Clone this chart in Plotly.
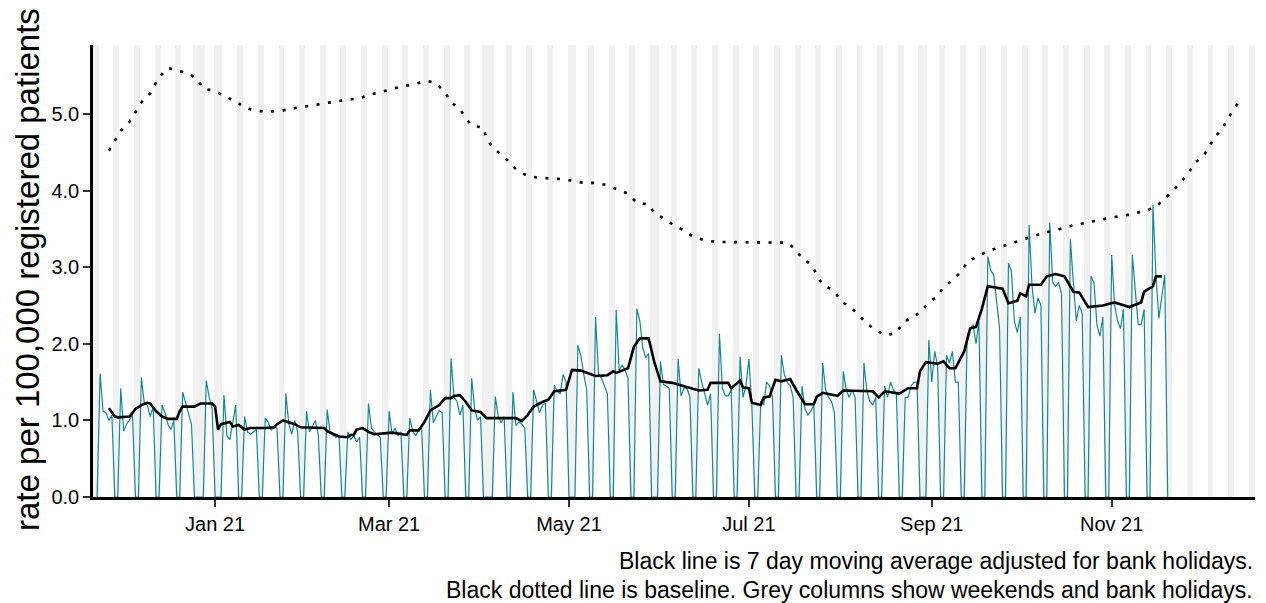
import pandas as pd
import plotly.graph_objects as go

# ---------------- data ----------------
# daily rate, one row per week: Sun, Mon, Tue, Wed, Thu, Fri, Sat (first day Sun 22 Nov 2020)
daily_start = "2020-11-22"
daily_rate = [
    0, 1.61, 1.12, 1.10, 1.00, 1.07, 0,
    0, 1.42, 0.86, 0.95, 1.02, 1.07, 0,
    0, 1.56, 1.22, 1.20, 1.05, 1.18, 0,
    0, 1.20, 1.10, 0.95, 0.88, 1.00, 0,
    0, 1.37, 1.22, 1.10, 0.95, 0, 0,
    0, 0, 1.52, 1.30, 1.15, 0, 0,
    0, 1.33, 0.80, 0.75, 0.95, 1.20, 0,
    0, 1.05, 0.85, 0.82, 0.85, 0.88, 0,
    0, 1.03, 0.98, 0.87, 0.92, 0.90, 0,
    0, 1.35, 0.95, 0.82, 1.00, 0.85, 0,
    0, 1.12, 0.85, 0.92, 1.00, 0.80, 0,
    0, 1.14, 0.83, 0.80, 0.78, 0.80, 0,
    0, 0.85, 0.75, 0.80, 0.72, 0.78, 0,
    0, 1.22, 0.90, 0.85, 0.82, 0.78, 0,
    0, 1.12, 0.82, 0.90, 0.80, 0.85, 0,
    0, 1.03, 0.86, 0.80, 0.88, 0.92, 0,
    0, 1.40, 0.97, 1.05, 1.13, 1.10, 0,
    0, 1.81, 1.30, 1.25, 1.07, 1.20, 0,
    0, 1.55, 1.15, 1.00, 1.05, 0, 0,
    0, 0, 1.31, 1.05, 0.97, 1.05, 0,
    0, 1.37, 0.93, 0.98, 0.95, 0.90, 0,
    0, 1.40, 1.25, 1.10, 1.20, 1.22, 0,
    0, 1.46, 1.38, 1.35, 1.60, 1.50, 0,
    0, 0, 1.98, 1.85, 1.60, 1.40, 0,
    0, 2.35, 1.60, 1.55, 1.45, 1.35, 0,
    0, 2.44, 1.65, 1.72, 1.66, 1.55, 0,
    0, 2.46, 2.30, 1.95, 1.82, 1.87, 0,
    0, 0, 1.77, 1.47, 1.45, 1.42, 0,
    0, 1.80, 1.32, 1.42, 1.42, 1.30, 0,
    0, 1.68, 1.50, 1.35, 1.20, 1.35, 0,
    0, 2.13, 1.42, 1.32, 1.32, 1.40, 0,
    0, 1.83, 1.30, 1.45, 1.80, 1.20, 0,
    0, 1.25, 1.20, 1.50, 1.45, 1.30, 0,
    0, 1.85, 1.60, 1.50, 1.45, 1.30, 0,
    0, 1.45, 1.15, 1.07, 1.12, 1.20, 0,
    0, 1.75, 1.40, 1.30, 1.25, 1.10, 0,
    0, 1.64, 1.40, 1.30, 1.40, 1.30, 0,
    0, 1.75, 1.38, 1.25, 1.20, 1.30, 0,
    0, 1.45, 1.30, 1.50, 1.40, 1.35, 0,
    0, 1.30, 1.30, 1.45, 1.50, 1.50, 0,
    0, 0, 2.05, 1.50, 1.90, 1.70, 0,
    0, 1.85, 1.75, 1.90, 1.50, 1.50, 0,
    0, 2.10, 2.20, 2.25, 2.00, 2.30, 0,
    0, 3.14, 2.96, 2.90, 2.55, 2.20, 0,
    0, 3.05, 2.95, 2.30, 2.15, 2.35, 0,
    0, 3.55, 2.75, 2.40, 2.60, 2.50, 0,
    0, 3.58, 2.80, 2.75, 2.80, 2.65, 0,
    0, 3.36, 2.80, 2.30, 2.50, 2.40, 0,
    0, 2.88, 2.80, 2.25, 2.10, 2.35, 0,
    0, 3.16, 2.50, 2.30, 2.20, 2.45, 0,
    0, 3.16, 2.70, 2.25, 2.25, 2.45, 0,
    0, 3.81, 2.90, 2.33, 2.60, 2.90, 0,
]

# 7 day moving average (adjusted for bank holidays), read at its turning points
ma_dates = [
    "2020-11-26", "2020-11-28", "2020-11-29", "2020-12-03", "2020-12-05", "2020-12-07",
    "2020-12-09", "2020-12-10", "2020-12-12", "2020-12-14", "2020-12-16", "2020-12-19",
    "2020-12-20", "2020-12-21", "2020-12-25", "2020-12-27", "2020-12-31", "2021-01-01",
    "2021-01-02", "2021-01-03", "2021-01-06", "2021-01-07", "2021-01-09", "2021-01-11",
    "2021-01-13", "2021-01-16", "2021-01-18", "2021-01-21", "2021-01-22", "2021-01-24",
    "2021-01-26", "2021-01-28", "2021-01-30", "2021-02-07", "2021-02-08", "2021-02-10",
    "2021-02-12", "2021-02-15", "2021-02-16", "2021-02-17", "2021-02-18", "2021-02-20",
    "2021-02-22", "2021-02-24", "2021-03-02", "2021-03-07", "2021-03-08", "2021-03-11",
    "2021-03-13", "2021-03-15", "2021-03-18", "2021-03-20", "2021-03-22", "2021-03-23",
    "2021-03-25", "2021-03-27", "2021-03-29", "2021-04-01", "2021-04-03", "2021-04-13",
    "2021-04-15", "2021-04-17", "2021-04-19", "2021-04-22", "2021-04-24", "2021-04-26",
    "2021-04-30", "2021-05-02", "2021-05-05", "2021-05-10", "2021-05-14", "2021-05-16",
    "2021-05-17", "2021-05-21", "2021-05-23", "2021-05-25", "2021-05-28", "2021-05-30",
    "2021-06-01", "2021-06-05", "2021-06-08", "2021-06-14", "2021-06-17", "2021-06-18",
    "2021-06-24", "2021-06-25", "2021-06-28", "2021-06-29", "2021-07-01", "2021-07-02",
    "2021-07-05", "2021-07-06", "2021-07-08", "2021-07-10", "2021-07-12", "2021-07-15",
    "2021-07-17", "2021-07-20", "2021-07-23", "2021-07-24", "2021-07-26", "2021-07-31",
    "2021-08-02", "2021-08-12", "2021-08-14", "2021-08-16", "2021-08-21", "2021-08-24",
    "2021-08-27", "2021-08-28", "2021-08-30", "2021-09-03", "2021-09-05", "2021-09-07",
    "2021-09-09", "2021-09-12", "2021-09-14", "2021-09-16", "2021-09-18", "2021-09-20",
    "2021-09-25", "2021-09-27", "2021-09-30", "2021-10-01", "2021-10-03", "2021-10-04",
    "2021-10-08", "2021-10-10", "2021-10-13", "2021-10-16", "2021-10-19", "2021-10-21",
    "2021-10-24", "2021-10-29", "2021-11-02", "2021-11-07", "2021-11-11", "2021-11-12",
    "2021-11-15", "2021-11-16", "2021-11-18",
]
ma_rate = [
    1.16, 1.05, 1.04, 1.05, 1.15, 1.20,
    1.23, 1.22, 1.12, 1.05, 1.02, 1.02,
    1.12, 1.18, 1.18, 1.22, 1.22, 1.18,
    0.88, 0.95, 0.98, 0.92, 0.94, 0.88,
    0.90, 0.90, 0.90, 0.91, 0.95, 1.00,
    0.98, 0.95, 0.91, 0.90, 0.86, 0.83,
    0.79, 0.78, 0.81, 0.81, 0.88, 0.90,
    0.85, 0.82, 0.84, 0.81, 0.87, 0.87,
    0.98, 1.13, 1.20, 1.29, 1.29, 1.32,
    1.33, 1.24, 1.13, 1.11, 1.03, 1.03,
    0.99, 1.07, 1.18, 1.24, 1.27, 1.38,
    1.40, 1.66, 1.65, 1.58, 1.59, 1.64,
    1.62, 1.68, 1.96, 2.07, 2.07, 1.75,
    1.51, 1.49, 1.46, 1.39, 1.40, 1.49,
    1.49, 1.42, 1.52, 1.43, 1.42, 1.23,
    1.20, 1.30, 1.31, 1.53, 1.51, 1.54,
    1.40, 1.21, 1.21, 1.31, 1.36, 1.32,
    1.39, 1.38, 1.30, 1.38, 1.35, 1.42,
    1.42, 1.64, 1.76, 1.74, 1.77, 1.68,
    1.68, 1.90, 2.20, 2.22, 2.46, 2.75,
    2.72, 2.53, 2.56, 2.66, 2.62, 2.77,
    2.77, 2.88, 2.91, 2.88, 2.68, 2.67,
    2.48, 2.50, 2.54, 2.48, 2.54, 2.68,
    2.75, 2.88, 2.88,
]

# baseline (dotted)
baseline_dates = [
    "2020-11-26", "2020-11-28", "2020-11-30", "2020-12-03", "2020-12-05", "2020-12-07",
    "2020-12-10", "2020-12-13", "2020-12-16", "2020-12-19", "2020-12-23", "2020-12-26",
    "2020-12-28", "2021-01-01", "2021-01-04", "2021-01-08", "2021-01-11", "2021-01-15",
    "2021-01-19", "2021-01-23", "2021-01-27", "2021-01-30", "2021-02-03", "2021-02-07",
    "2021-02-11", "2021-02-15", "2021-02-19", "2021-02-22", "2021-02-26", "2021-03-02",
    "2021-03-06", "2021-03-10", "2021-03-14", "2021-03-17", "2021-03-20", "2021-03-22",
    "2021-03-25", "2021-03-27", "2021-03-29", "2021-04-02", "2021-04-03", "2021-04-05",
    "2021-04-07", "2021-04-10", "2021-04-13", "2021-04-16", "2021-04-20", "2021-04-24",
    "2021-04-28", "2021-05-02", "2021-05-06", "2021-05-10", "2021-05-14", "2021-05-17",
    "2021-05-21", "2021-05-24", "2021-05-28", "2021-05-30", "2021-06-02", "2021-06-05",
    "2021-06-09", "2021-06-12", "2021-06-16", "2021-06-20", "2021-07-14", "2021-07-17",
    "2021-07-19", "2021-07-22", "2021-07-24", "2021-07-26", "2021-07-30", "2021-08-01",
    "2021-08-04", "2021-08-07", "2021-08-10", "2021-08-13", "2021-08-16", "2021-08-20",
    "2021-08-22", "2021-08-25", "2021-08-28", "2021-08-31", "2021-09-03", "2021-09-05",
    "2021-09-08", "2021-09-11", "2021-09-13", "2021-09-16", "2021-09-20", "2021-09-24",
    "2021-09-28", "2021-10-02", "2021-10-05", "2021-10-09", "2021-10-13", "2021-10-17",
    "2021-10-21", "2021-10-25", "2021-10-29", "2021-11-01", "2021-11-05", "2021-11-09",
    "2021-11-13", "2021-11-16", "2021-11-19", "2021-11-22", "2021-11-24", "2021-11-27",
    "2021-11-29", "2021-12-02", "2021-12-04", "2021-12-06", "2021-12-08", "2021-12-10",
    "2021-12-12", "2021-12-14",
]
baseline_rate = [
    4.52, 4.66, 4.78, 4.90, 5.03, 5.15,
    5.27, 5.48, 5.60, 5.57, 5.53, 5.45,
    5.33, 5.30, 5.23, 5.17, 5.08, 5.04,
    5.03, 5.04, 5.07, 5.09, 5.11, 5.14,
    5.16, 5.19, 5.20, 5.25, 5.28, 5.33,
    5.36, 5.40, 5.43, 5.40, 5.28, 5.15,
    5.07, 4.94, 4.85, 4.82, 4.68, 4.57,
    4.50, 4.40, 4.28, 4.21, 4.17, 4.16,
    4.15, 4.13, 4.10, 4.10, 4.07, 4.02,
    3.96, 3.84, 3.82, 3.70, 3.64, 3.56,
    3.48, 3.40, 3.35, 3.33, 3.32, 3.23,
    3.11, 3.04, 2.90, 2.77, 2.69, 2.56,
    2.49, 2.39, 2.26, 2.18, 2.11, 2.14,
    2.26, 2.35, 2.40, 2.54, 2.62, 2.74,
    2.83, 2.94, 3.07, 3.13, 3.21, 3.26,
    3.31, 3.36, 3.40, 3.45, 3.48, 3.53,
    3.56, 3.59, 3.62, 3.65, 3.67, 3.71,
    3.74, 3.79, 3.89, 4.01, 4.10, 4.22,
    4.36, 4.44, 4.57, 4.70, 4.78, 4.91,
    5.04, 5.15,
]

bank_holidays = ["2020-12-25", "2020-12-28", "2021-01-01", "2021-04-02", "2021-04-05",
                 "2021-05-03", "2021-05-31", "2021-08-30"]
shade_start, shade_end = "2020-11-21", "2021-12-19"

tick_dates = ["2021-01-01", "2021-03-01", "2021-05-01", "2021-07-01", "2021-09-01", "2021-11-01"]
tick_labels = ["Jan 21", "Mar 21", "May 21", "Jul 21", "Sep 21", "Nov 21"]
y_ticks = [0, 1, 2, 3, 4, 5]
y_labels = ["0.0", "1.0", "2.0", "3.0", "4.0", "5.0"]

caption_1 = "Black line is 7 day moving average adjusted for bank holidays."
caption_2 = "Black dotted line is baseline. Grey columns show weekends and bank holidays."
y_title = "rate per 100,000 registered patients"

# ---------------- build ----------------
Y_TOP = 5.9
daily_dates = pd.date_range(daily_start, periods=len(daily_rate), freq="D")
all_days = pd.date_range(shade_start, shade_end, freq="D")
weekend_days = all_days[all_days.dayofweek >= 5]
shade_days = sorted(set(weekend_days) | set(pd.to_datetime(bank_holidays)))

FONT = "Liberation Sans, Arial, sans-serif"
fig = go.Figure()

fig.add_trace(go.Bar(
    x=shade_days, y=[Y_TOP] * len(shade_days),
    width=86400000, marker=dict(color="#F1F1F1", line=dict(width=0)),
    hoverinfo="skip", showlegend=False,
))
fig.add_trace(go.Scatter(
    x=daily_dates, y=daily_rate, mode="lines",
    line=dict(color="#13879A", width=1.2), showlegend=False,
))
fig.add_trace(go.Scatter(
    x=pd.to_datetime(baseline_dates), y=baseline_rate, mode="lines",
    line=dict(color="black", width=2.6, dash="3px,8.5px"), showlegend=False,
))
fig.add_trace(go.Scatter(
    x=pd.to_datetime(ma_dates), y=ma_rate, mode="lines",
    line=dict(color="black", width=2.6), showlegend=False,
))

# the page body keeps an 8px margin, so the figure is drawn 8px smaller and offset
fig.update_layout(
    width=1258, height=595,
    margin=dict(l=85, r=11, t=37, b=106),
    paper_bgcolor="white", plot_bgcolor="white",
    bargap=0, barmode="overlay",
    font=dict(family=FONT, color="black"),
    xaxis=dict(
        type="date",
        range=["2020-11-20 14:24", "2021-12-19 14:24"],
        tickvals=tick_dates, ticktext=tick_labels,
        tickfont=dict(size=20, color="black", family=FONT),
        ticks="outside", ticklen=7, tickwidth=2, tickcolor="#333333",
        showline=True, linecolor="black", linewidth=2.5,
        showgrid=False, zeroline=False,
    ),
    yaxis=dict(
        range=[0, Y_TOP],
        tickvals=y_ticks, ticktext=y_labels,
        tickfont=dict(size=20, color="black", family=FONT),
        ticks="outside", ticklen=7, tickwidth=2, tickcolor="#333333",
        showline=True, linecolor="black", linewidth=2.5,
        showgrid=False, zeroline=False,
    ),
    annotations=[
        dict(text=y_title, xref="paper", yref="paper", x=-0.0568, y=0.5044,
             textangle=-90, showarrow=False, xanchor="center", yanchor="middle",
             font=dict(size=33, color="black", family=FONT)),
        dict(text=caption_1, xref="paper", yref="paper", x=1.0, y=-0.1416,
             showarrow=False, xanchor="right", yanchor="middle",
             font=dict(size=23, color="black", family=FONT)),
        dict(text=caption_2, xref="paper", yref="paper", x=1.0, y=-0.2058,
             showarrow=False, xanchor="right", yanchor="middle",
             font=dict(size=23, color="black", family=FONT)),
    ],
)

fig.write_html("out.html")
